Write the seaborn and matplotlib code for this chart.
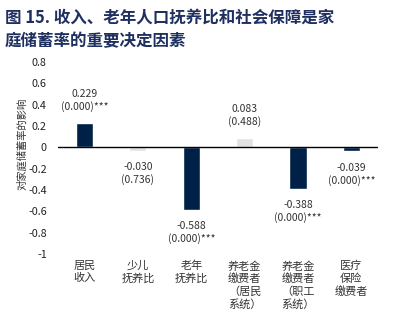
import matplotlib
matplotlib.use("Agg")
import matplotlib.pyplot as plt
import seaborn as sns
import pandas as pd

# Regression coefficients on household saving rate
categories = ["居民\n收入", "少儿\n抚养比", "老年\n抚养比",
              "养老金\n缴费者\n（居民\n系统）", "养老金\n缴费者\n（职工\n系统）",
              "医疗\n保险\n缴费者"]
coefficients = [0.229, -0.030, -0.588, 0.083, -0.388, -0.039]
p_values = ["(0.000)***", "(0.736)", "(0.000)***", "(0.488)", "(0.000)***", "(0.000)***"]
significant = [True, False, True, False, True, True]
yticks = [0.8, 0.6, 0.4, 0.2, 0, -0.2, -0.4, -0.6, -0.8, -1]
title_lines = ["图 15. 收入、老年人口抚养比和社会保障是家", "庭储蓄率的重要决定因素"]

NAVY = "#002147"
GRAY = "#e2e2e2"

sns.set_theme(style="white")
plt.rcParams["font.family"] = ["Noto Sans CJK SC", "DejaVu Sans"]

df = pd.DataFrame({"cat": categories, "coef": coefficients})
colors = [NAVY if s else GRAY for s in significant]

fig = plt.figure(figsize=(4.14, 3.27), dpi=100)
ax = fig.add_axes([0.140, 0.2232, 0.773, 0.5872])

sns.barplot(data=df, x="cat", y="coef", hue="cat", palette=colors,
            legend=False, width=0.32, ax=ax, saturation=1)

ax.set_ylim(-1, 0.8)
ax.set_xlim(-0.5, len(categories) - 0.5)
ax.set_yticks(yticks)
ax.set_yticklabels([f"{t:g}" for t in yticks], fontsize=7.8, color="#222222")
ax.tick_params(axis="y", length=0, pad=8)
ax.tick_params(axis="x", length=0, pad=5)
for lbl in ax.get_xticklabels():
    lbl.set_fontsize(8)
    lbl.set_color("#333333")
    lbl.set_linespacing(1.22)
    lbl.set_verticalalignment("top")
ax.set_xlabel("")
ax.set_ylabel("对家庭储蓄率的影响", fontsize=7.4, color="#333333")
ax.yaxis.set_label_coords(-0.095, 0.575)
for s in ax.spines.values():
    s.set_visible(False)
ax.axhline(0, color="black", lw=1.0, zorder=3)

# coefficient and p-value annotations
for i, (v, p) in enumerate(zip(coefficients, p_values)):
    txt = f"{v:.3f}\n{p}"
    if v >= 0:
        ax.annotate(txt, (i, v), xytext=(0, 8), textcoords="offset points",
                    ha="center", va="bottom", fontsize=7.5, color="#333333",
                    linespacing=1.25)
    else:
        ax.annotate(txt, (i, v), xytext=(0, -8), textcoords="offset points",
                    ha="center", va="top", fontsize=7.5, color="#333333",
                    linespacing=1.25)

for line, yc in zip(title_lines, [0.946, 0.873]):
    fig.text(0.012, yc, line, fontsize=11.9, fontweight="bold", color="#1f3060",
             ha="left", va="center")

fig.savefig("out.png", dpi=100, facecolor="white")
